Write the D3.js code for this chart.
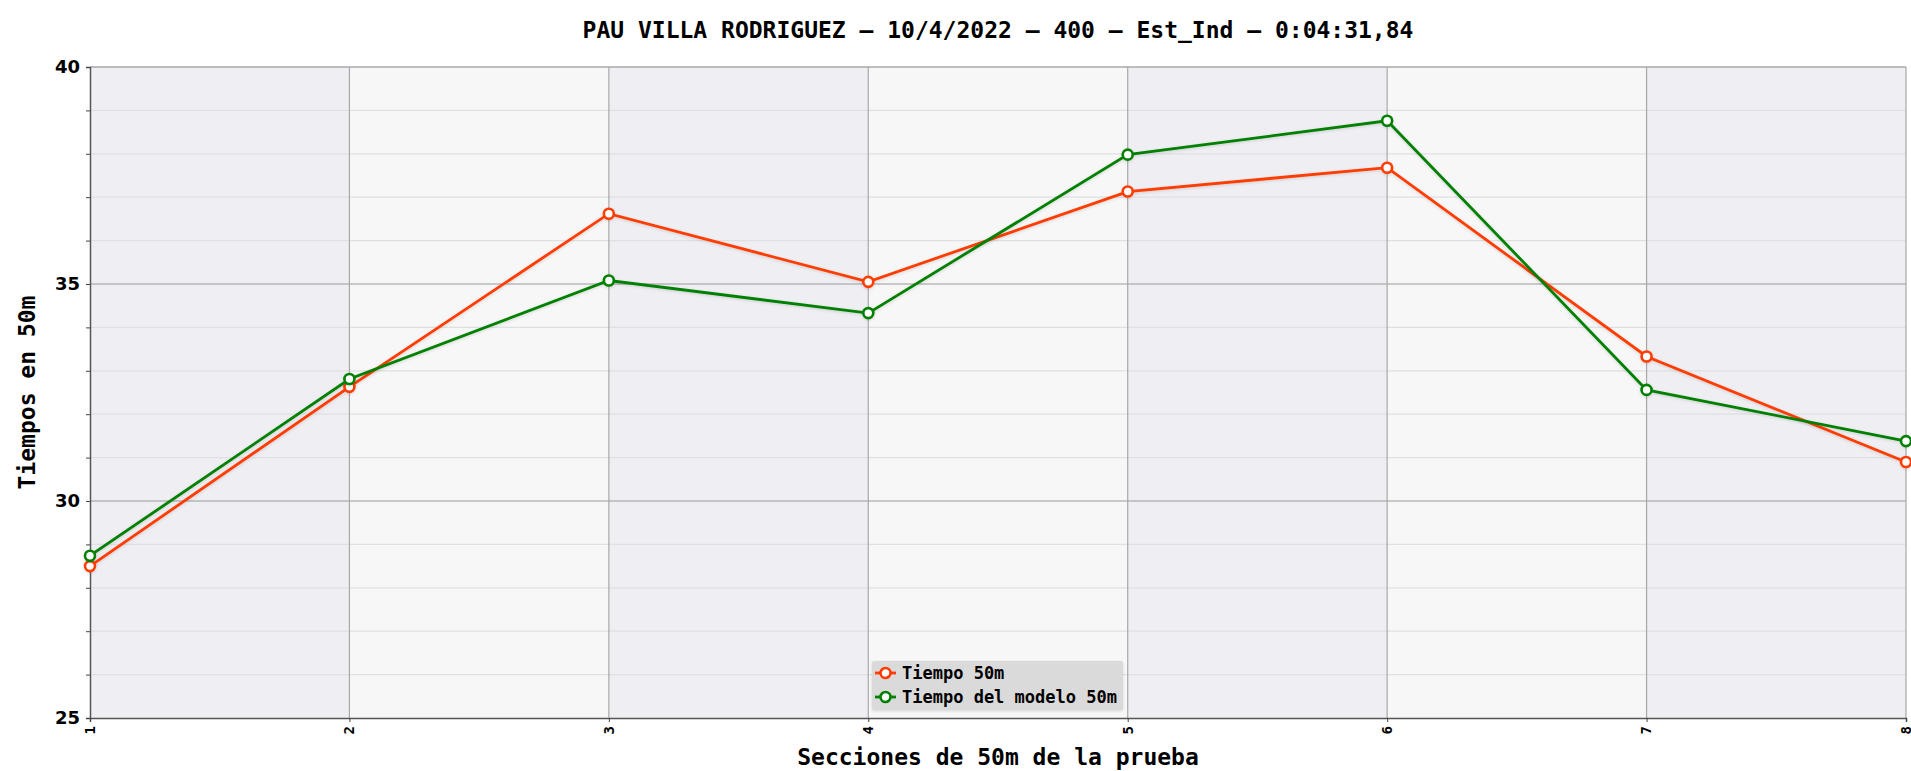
<!DOCTYPE html>
<html>
<head>
<meta charset="UTF-8" />
<script src="https://cdn.jsdelivr.net/npm/d3@7"></script>
<title>Tiempos</title>
<style>
  body { margin: 0; background: #fff; }
  svg text { font-family: "DejaVu Sans Mono", monospace; font-weight: bold; fill: #000; }
  .ytick text { font-family: "DejaVu Sans", sans-serif; }
</style>
</head>
<body>
<div id="chart"></div>
<script>
const sections = [1, 2, 3, 4, 5, 6, 7, 8];
const tiempo50 = [28.50, 32.63, 36.62, 35.05, 37.13, 37.68, 33.33, 30.90];
const tiempoModelo = [28.74, 32.81, 35.08, 34.33, 37.98, 38.76, 32.56, 31.38];
const yMajor = [25, 30, 35, 40];
const yMinor = d3.range(25, 41, 1);
const seriesNames = ["Tiempo 50m", "Tiempo del modelo 50m"];
const colors = ["#ff3c00", "#008000"];

const W = 1911, H = 771;
const m = {left: 90, right: 5, top: 67, bottom: 53};

const x = d3.scaleLinear().domain([1, 8]).range([m.left, W - m.right]);
const y = d3.scaleLinear().domain([25, 40]).range([H - m.bottom, m.top]);

const svg = d3.select("#chart").append("svg")
    .attr("width", W).attr("height", H);

const defs = svg.append("defs");
const f = defs.append("filter").attr("id", "glow")
    .attr("x", "-5%").attr("y", "-5%").attr("width", "110%").attr("height", "110%");
f.append("feDropShadow").attr("dx", 0).attr("dy", 1).attr("stdDeviation", 1.5)
    .attr("flood-color", "#000").attr("flood-opacity", 0.15);

// column bands
svg.selectAll("rect.band")
    .data(sections.slice(0, -1))
    .enter().append("rect")
    .attr("class", "band")
    .attr("x", d => x(d))
    .attr("y", y(40))
    .attr("width", d => x(d + 1) - x(d))
    .attr("height", y(25) - y(40))
    .attr("fill", (d, i) => i % 2 == 0 ? "#efeef3" : "#f7f7f7");

// minor grid
svg.append("g").selectAll("line")
    .data(yMinor.filter(v => !yMajor.includes(v)))
    .enter().append("line")
    .attr("x1", x(1)).attr("x2", x(8))
    .attr("y1", d => y(d)).attr("y2", d => y(d))
    .attr("stroke", "#e0e0e3").attr("stroke-width", 1.2);

// major grid
svg.append("g").selectAll("line")
    .data([30, 35])
    .enter().append("line")
    .attr("x1", x(1)).attr("x2", x(8))
    .attr("y1", d => y(d)).attr("y2", d => y(d))
    .attr("stroke", "#9a9a9a").attr("stroke-width", 1);

// vertical grid
svg.append("g").selectAll("line")
    .data(sections.slice(1))
    .enter().append("line")
    .attr("x1", d => x(d)).attr("x2", d => x(d))
    .attr("y1", y(40)).attr("y2", y(25))
    .attr("stroke", "#a8a8a8").attr("stroke-width", 1.2);

// top border
svg.append("line")
    .attr("x1", x(1)).attr("x2", x(8)).attr("y1", y(40)).attr("y2", y(40))
    .attr("stroke", "#a8a8a8").attr("stroke-width", 1.5);

// y axis
const yAxis = d3.axisLeft(y).tickValues(yMinor).tickSize(4).tickFormat("");
const gy = svg.append("g").attr("transform", `translate(${x(1)},0)`).call(yAxis);
gy.select(".domain").attr("stroke", "#555").attr("stroke-width", 1.5);
gy.selectAll(".tick line").attr("stroke", "#444");
svg.append("g").attr("class", "ytick").selectAll("text")
    .data(yMajor)
    .enter().append("text")
    .attr("x", x(1) - 10)
    .attr("y", d => y(d))
    .attr("dy", "0.35em")
    .attr("text-anchor", "end")
    .attr("font-size", 18)
    .text(d => d);

// x axis
const xAxis = d3.axisBottom(x).tickValues(sections).tickSize(4).tickFormat("");
const gx = svg.append("g").attr("transform", `translate(0,${y(25)})`).call(xAxis);
gx.select(".domain").attr("stroke", "#555").attr("stroke-width", 1.5);
gx.selectAll(".tick line").attr("stroke", "#444");
svg.append("g").selectAll("text")
    .data(sections)
    .enter().append("text")
    .attr("transform", d => `translate(${x(d)},${y(25) + 8}) rotate(-90)`)
    .attr("text-anchor", "end")
    .attr("dy", "0.35em")
    .attr("font-size", 14)
    .text(d => d);

// series
const series = [tiempo50, tiempoModelo];
const line = d3.line().x((d, i) => x(sections[i])).y(d => y(d));
series.forEach((s, k) => {
    const g = svg.append("g").attr("filter", "url(#glow)");
    g.append("path")
        .datum(s)
        .attr("d", line)
        .attr("fill", "none")
        .attr("stroke", colors[k])
        .attr("stroke-width", 2.8);
    g.selectAll("circle")
        .data(s)
        .enter().append("circle")
        .attr("cx", (d, i) => x(sections[i]))
        .attr("cy", d => y(d))
        .attr("r", 5)
        .attr("fill", "#fff")
        .attr("stroke", colors[k])
        .attr("stroke-width", 2.6);
});

// title and axis labels
svg.append("text")
    .attr("x", (x(1) + x(8)) / 2).attr("y", 38)
    .attr("text-anchor", "middle").attr("font-size", 23)
    .text("PAU VILLA RODRIGUEZ – 10/4/2022 – 400 – Est_Ind – 0:04:31,84");
svg.append("text")
    .attr("x", (x(1) + x(8)) / 2).attr("y", 765)
    .attr("text-anchor", "middle").attr("font-size", 23)
    .text("Secciones de 50m de la prueba");
svg.append("text")
    .attr("transform", `translate(35,${(y(25) + y(40)) / 2}) rotate(-90)`)
    .attr("text-anchor", "middle").attr("font-size", 23)
    .text("Tiempos en 50m");

// legend
const lg = svg.append("g").attr("transform", "translate(872,661)");
lg.append("rect")
    .attr("width", 251).attr("height", 49).attr("rx", 2)
    .attr("fill", "#d9d9d9").attr("opacity", 0.95)
    .attr("filter", "url(#glow)");
seriesNames.forEach((name, k) => {
    const row = lg.append("g").attr("transform", `translate(0,${12 + k * 24})`);
    row.append("line").attr("x1", 3).attr("x2", 24)
        .attr("stroke", colors[k]).attr("stroke-width", 2.8);
    row.append("circle").attr("cx", 13.5).attr("r", 5)
        .attr("fill", "#fff").attr("stroke", colors[k]).attr("stroke-width", 2.6);
    row.append("text").attr("x", 30).attr("dy", "0.35em")
        .attr("font-size", 17).text(name);
});
</script>
</body>
</html>
